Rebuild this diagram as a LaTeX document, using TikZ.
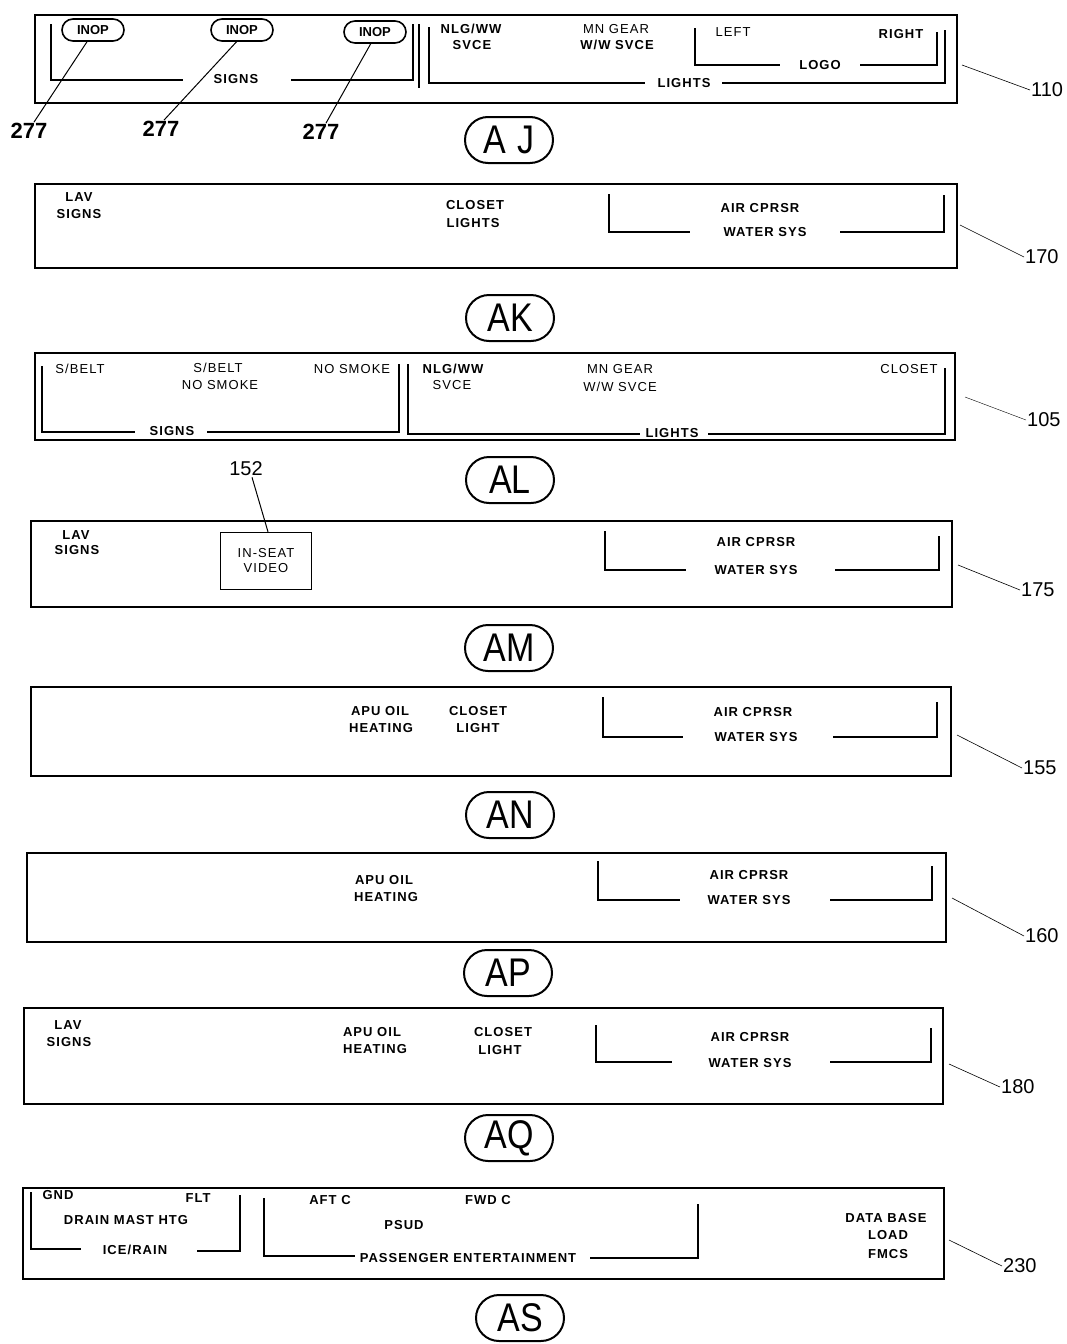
\documentclass[tikz,border=0pt]{standalone}
\usepackage{fontspec}
\usepackage{graphicx}
\setmainfont{Liberation Sans}
\newfontfamily\pf[LetterSpace=8]{Liberation Sans}
\usetikzlibrary{shapes.misc}
\tikzset{
  t/.style={font=\pf\bfseries\fontsize{13}{13}\selectfont, inner sep=0pt},
  tl/.style={font=\pf\fontsize{13}{13}\selectfont, inner sep=0pt},
  num/.style={font=\fontsize{20}{20}\selectfont, inner sep=1pt},
  bnum/.style={font=\bfseries\fontsize{22}{22}\selectfont, inner sep=1pt},
  tab/.style={draw, rounded rectangle, line width=2pt, minimum width=88pt, minimum height=46pt, inner sep=0pt, font=\fontsize{40}{40}\selectfont},
  inop/.style={draw, rounded rectangle, line width=1.6pt, minimum width=62pt, minimum height=22pt, inner sep=0pt, font=\bfseries\fontsize{13}{13}\selectfont},
  panel/.style={line width=1.5pt},
  brk/.style={line width=1.3pt},
  lead/.style={line width=1pt},
  thinlead/.style={line width=0.6pt},
  box/.style={draw, line width=1.3pt, minimum width=91pt, minimum height=57pt, inner sep=0pt, align=center, font=\pf\fontsize{13}{15}\selectfont}
}
\newcommand{\tabtxt}[1]{\scalebox{0.85}[1]{#1}}
\begin{document}
\begin{tikzpicture}[x=1pt,y=-1pt]
\useasboundingbox (0,0) rectangle (1067,1344);

% ===================== Panel 110 (AJ) =====================
\draw[panel] (35,15) rectangle (957,103);
\node[inop] (inopA) at (93,30) {INOP};
\node[inop] (inopB) at (242,30) {INOP};
\node[inop] (inopC) at (375,32) {INOP};
\draw[brk] (51,24) -- (51,80) -- (183,80);
\draw[brk] (291,80) -- (413,80) -- (413,24);
\node[t] (sgA) at (236,79) {SIGNS};
\draw[brk] (419,24) -- (419,88);
\draw[brk] (429,27) -- (429,83) -- (645,83);
\draw[brk] (722,83) -- (945,83) -- (945,30);
\node[t] (ltA) at (684,83) {LIGHTS};
\draw[brk] (695,28) -- (695,65) -- (780,65);
\draw[brk] (860,65) -- (937,65) -- (937,32);
\node[t] (logoA) at (820,65) {LOGO};
\node[t] (nlgA) at (471,29) {NLG/WW};
\node[t] (svA) at (472,45) {SVCE};
\node[tl] (mnA) at (616,29) {MN GEAR};
\node[t] (wwA) at (617,45) {W/W SVCE};
\node[tl] (leftA) at (733,32) {LEFT};
\node[t] (rightA) at (901,34) {RIGHT};
\node[bnum] (n277a) at (29,131) {277};
\node[bnum] (n277b) at (161,129) {277};
\node[bnum] (n277c) at (321,132) {277};
\draw[lead] (inopA.243) -- ([xshift=5pt]n277a.north);
\draw[lead] (inopB.245) -- ([xshift=3pt]n277b.north);
\draw[lead] (inopC.250) -- ([xshift=5pt]n277c.north);
\coordinate (sA) at (962,65);
\node[num, anchor=west] (r110) at (1030,90) {110};
\draw[thinlead] (sA) -- (r110.west);
\node[tab] (AJ) at (509,140) {\tabtxt{A\,\,J}};

% ===================== Panel 170 (AK) =====================
\draw[panel] (35,184) rectangle (957,268);
\node[t] (lavB) at (79,197) {LAV};
\node[t] (sgB) at (79,214) {SIGNS};
\node[t] (clB) at (475,205) {CLOSET};
\node[t] (lgB) at (473,223) {LIGHTS};
\node[t] (acB) at (760,208) {AIR CPRSR};
\draw[brk] (609,194) -- (609,232) -- (690,232);
\draw[brk] (840,232) -- (944,232) -- (944,195);
\node[t] (wsB) at (765,232) {WATER SYS};
\coordinate (sB) at (960,225);
\node[num, anchor=west] (r170) at (1024,257) {170};
\draw[thinlead] (sB) -- (r170.west);
\node[tab] (AK) at (510,318) {\tabtxt{AK}};

% ===================== Panel 105 (AL) =====================
\draw[panel] (35,353) rectangle (955,440);
\draw[brk] (42,366) -- (42,432) -- (135,432);
\draw[brk] (207,432) -- (399,432) -- (399,364);
\node[t] (sgC) at (172,431) {SIGNS};
\draw[brk] (408,364) -- (408,434) -- (640,434);
\draw[brk] (708,434) -- (945,434) -- (945,368);
\node[t] (ltC) at (672,433) {LIGHTS};
\node[tl] (sb1C) at (80,369) {S/BELT};
\node[tl] (sb2C) at (218,368) {S/BELT};
\node[tl] (ns1C) at (220,385) {NO SMOKE};
\node[tl] (ns2C) at (352,369) {NO SMOKE};
\node[t] (nlgC) at (453,369) {NLG/WW};
\node[tl] (svC) at (452,385) {SVCE};
\node[tl] (mnC) at (620,369) {MN GEAR};
\node[tl] (wwC) at (620,387) {W/W SVCE};
\node[tl] (clC) at (909,369) {CLOSET};
\coordinate (sC) at (965,397);
\node[num, anchor=west] (r105) at (1026,420) {105};
\draw[line width=0.4pt] (sC) -- (r105.west);
\node[tab] (AL) at (510,480) {\tabtxt{AL}};

% ===================== Panel 175 (AM) =====================
\node[num] (r152) at (246,469) {152};
\draw[panel] (31,521) rectangle (952,607);
\node[box] (isv) at (266,561) {IN-SEAT\\VIDEO};
\draw[lead] ([xshift=6pt]r152.south) -- ([xshift=2pt]isv.north);
\node[t] (lavD) at (76,535) {LAV};
\node[t] (sgD) at (77,550) {SIGNS};
\node[t] (acD) at (756,542) {AIR CPRSR};
\draw[brk] (605,531) -- (605,570) -- (686,570);
\draw[brk] (835,570) -- (939,570) -- (939,536);
\node[t] (wsD) at (756,570) {WATER SYS};
\coordinate (sD) at (958,565);
\node[num, anchor=west] (r175) at (1020,590) {175};
\draw[thinlead] (sD) -- (r175.west);
\node[tab] (AM) at (509,648) {\tabtxt{AM}};

% ===================== Panel 155 (AN) =====================
\draw[panel] (31,687) rectangle (951,776);
\node[t] (apE) at (380,711) {APU OIL};
\node[t] (htE) at (381,728) {HEATING};
\node[t] (clE) at (478,711) {CLOSET};
\node[t] (lgE) at (478,728) {LIGHT};
\node[t] (acE) at (753,712) {AIR CPRSR};
\draw[brk] (603,697) -- (603,737) -- (683,737);
\draw[brk] (833,737) -- (937,737) -- (937,702);
\node[t] (wsE) at (756,737) {WATER SYS};
\coordinate (sE) at (957,735);
\node[num, anchor=west] (r155) at (1022,768) {155};
\draw[thinlead] (sE) -- (r155.west);
\node[tab] (AN) at (510,815) {\tabtxt{AN}};

% ===================== Panel 160 (AP) =====================
\draw[panel] (27,853) rectangle (946,942);
\node[t] (apF) at (384,880) {APU OIL};
\node[t] (htF) at (386,897) {HEATING};
\node[t] (acF) at (749,875) {AIR CPRSR};
\draw[brk] (598,861) -- (598,900) -- (680,900);
\draw[brk] (830,900) -- (932,900) -- (932,866);
\node[t] (wsF) at (749,900) {WATER SYS};
\coordinate (sF) at (952,898);
\node[num, anchor=west] (r160) at (1024,936) {160};
\draw[thinlead] (sF) -- (r160.west);
\node[tab] (AP) at (508,973) {\tabtxt{AP}};

% ===================== Panel 180 (AQ) =====================
\draw[panel] (24,1008) rectangle (943,1104);
\node[t] (lavG) at (68,1025) {LAV};
\node[t] (sgG) at (69,1042) {SIGNS};
\node[t] (apG) at (372,1032) {APU OIL};
\node[t] (htG) at (375,1049) {HEATING};
\node[t] (clG) at (503,1032) {CLOSET};
\node[t] (lgG) at (500,1050) {LIGHT};
\node[t] (acG) at (750,1037) {AIR CPRSR};
\draw[brk] (596,1025) -- (596,1062) -- (672,1062);
\draw[brk] (830,1062) -- (931,1062) -- (931,1028);
\node[t] (wsG) at (750,1063) {WATER SYS};
\coordinate (sG) at (949,1064);
\node[num, anchor=west] (r180) at (1000,1087) {180};
\draw[thinlead] (sG) -- (r180.west);
\node[tab] (AQ) at (509,1138) {\tabtxt{AQ}};

% ===================== Panel 230 (AS) =====================
\draw[panel] (23,1188) rectangle (944,1279);
\node[t] (gndH) at (58,1195) {GND};
\node[t] (fltH) at (198,1198) {FLT};
\node[t] (dmH) at (126,1220) {DRAIN MAST HTG};
\node[t] (irH) at (135,1250) {ICE/RAIN};
\draw[brk] (31,1192) -- (31,1249) -- (81,1249);
\draw[brk] (197,1251) -- (240,1251) -- (240,1195);
\node[t] (aftH) at (330,1200) {AFT C};
\node[t] (fwdH) at (488,1200) {FWD C};
\node[t] (psH) at (404,1225) {PSUD};
\draw[brk] (264,1198) -- (264,1256) -- (355,1256);
\draw[brk] (590,1258) -- (698,1258) -- (698,1204);
\node[t] (peH) at (468,1258) {PASSENGER ENTERTAINMENT};
\node[t] (dbH) at (886,1218) {DATA BASE};
\node[t] (ldH) at (888,1235) {LOAD};
\node[t] (fmH) at (888,1254) {FMCS};
\coordinate (sH) at (949,1240);
\node[num, anchor=west] (r230) at (1002,1266) {230};
\draw[thinlead] (sH) -- (r230.west);
\node[tab] (AS) at (520,1318) {\tabtxt{AS}};
\end{tikzpicture}
\end{document}
